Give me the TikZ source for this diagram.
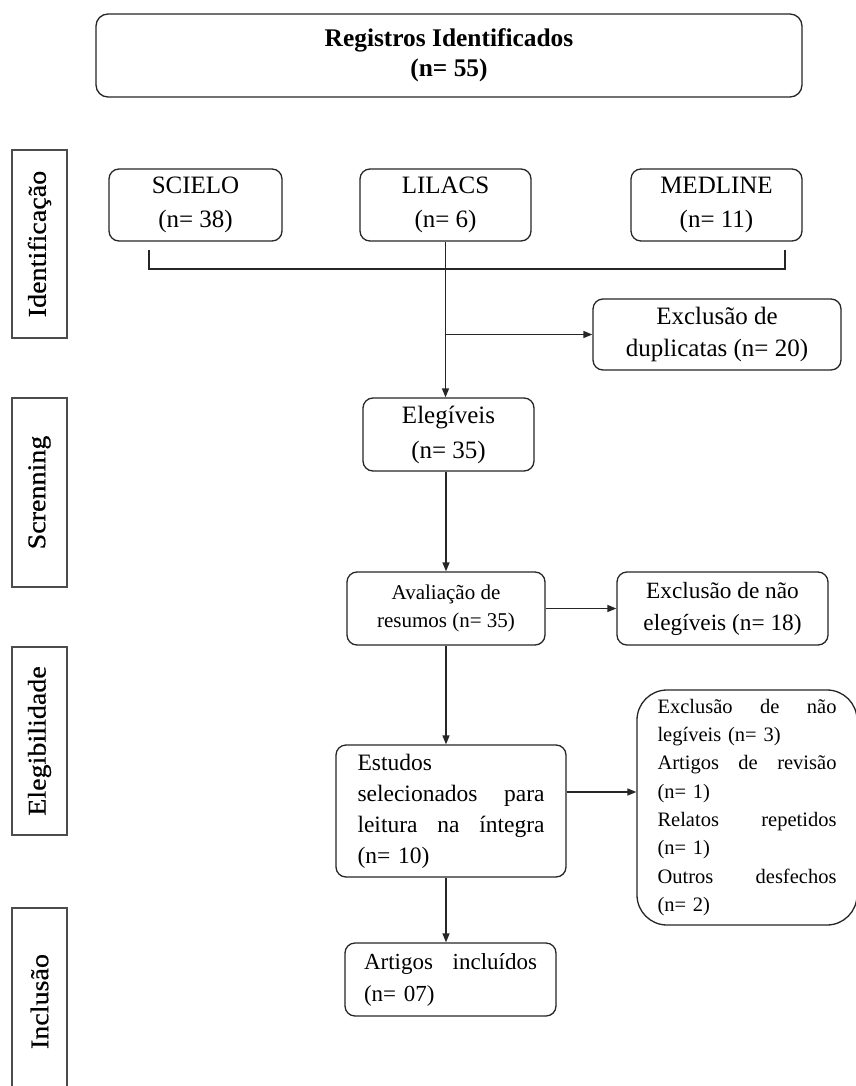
\documentclass[tikz,border=0pt]{standalone}
\usepackage{fontspec}
\setmainfont{Liberation Serif}
\newfontfamily\sidefont[FakeStretch=1.1,FakeBold=0.6]{Liberation Serif}
\usetikzlibrary{arrows.meta}
\newcommand{\jline}[2]{\makebox[#1][l]{#2}}
\begin{document}
\begin{tikzpicture}[x=1pt,y=-1pt,
  box/.style={draw=black!85, line width=1.3pt, rounded corners=10pt, inner sep=0pt, align=center},
  side/.style={draw=black!70, line width=2pt, rotate=90, inner sep=0pt,
    font=\sidefont\fontsize{25.5}{30}\selectfont},
  ln/.style={line width=1.4pt, draw=black!85},
  arr/.style={ln, -{Triangle[length=9pt,width=7pt]}},
  fA/.style={font=\fontsize{25}{34}\selectfont},
  fB/.style={font=\fontsize{25}{32}\selectfont},
]
\path[use as bounding box, fill=white] (0,0) rectangle (855,1086);

% phase labels
\node[side, minimum width=188pt, minimum height=55pt] (s1) at (39.5,244) {Identificação};
\node[side, minimum width=189pt, minimum height=55pt] (s2) at (39.5,492.5) {Screnning};
\node[side, minimum width=188pt, minimum height=55pt] (s3) at (39.5,741) {Elegibilidade};
\node[side, minimum width=187pt, minimum height=55pt] (s4) at (39.5,1001.5) {Inclusão};

% boxes
\node[box, rounded corners=12pt, minimum width=706pt, minimum height=83pt,
      font=\bfseries\fontsize{25.4}{30}\selectfont] (top) at (449,55.5)
      {Registros Identificados\\(n= 55)};
\node[box, fA, minimum width=173pt, minimum height=72pt] (scielo) at (195.5,205) {SCIELO\\(n= 38)};
\node[box, fA, minimum width=171pt, minimum height=72pt] (lilacs) at (445.5,205) {LILACS\\(n= 6)};
\node[box, fA, minimum width=171pt, minimum height=72pt] (medline) at (716.5,205) {MEDLINE\\(n= 11)};
\node[box, fB, minimum width=248pt, minimum height=71pt] (dup) at (717,334.5) {Exclusão de\\duplicatas (n= 20)};
\node[box, font=\fontsize{25}{35}\selectfont, minimum width=171pt, minimum height=73pt] (eleg) at (448.5,434.5) {Elegíveis\\(n= 35)};
\node[box, font=\fontsize{21}{28}\selectfont, minimum width=198pt, minimum height=73pt] (aval) at (446,608.5) {Avaliação de\\resumos (n= 35)};
\node[box, font=\fontsize{23.3}{32}\selectfont, minimum width=211pt, minimum height=73pt] (excl2) at (722.5,608.5) {Exclusão de não\\elegíveis (n= 18)};
\node[box, font=\fontsize{23.5}{31}\selectfont, minimum width=230pt, minimum height=132pt,
      text width=187pt, align=left] (estudos) at (451,811)
      {Estudos\\\jline{187pt}{selecionados\hfill para}\\\jline{187pt}{leitura\hfill na\hfill íntegra}\\(n= 10)};
\node[box, rounded corners=30pt, font=\fontsize{20.5}{28.3}\selectfont, minimum width=220pt, minimum height=235pt,
      text width=179pt, align=left] (right) at (747,807.5)
      {\jline{179pt}{Exclusão\hfill de\hfill não}\\legíveis (n= 3)\\\jline{179pt}{Artigos\hfill de\hfill revisão}\\(n= 1)\\
       \jline{179pt}{Relatos\hfill repetidos}\\(n= 1)\\\jline{179pt}{Outros\hfill desfechos}\\(n= 2)};
\node[box, font=\fontsize{23}{32}\selectfont, minimum width=211pt, minimum height=73pt,
      text width=173pt, align=left] (artigos) at (450.5,979.5)
      {\jline{173pt}{Artigos\hfill incluídos}\\(n= 07)};

% connectors
\coordinate (bl) at (149,250);
\coordinate (br) at (785,250);
\draw[ln] (bl) -- ++(0,19) -| (br);
\draw[arr] (lilacs.south) -- (lilacs.south |- eleg.north);
\coordinate (j1) at (lilacs.south |- dup.west);
\draw[arr] (j1) -- (dup.west);
\draw[arr] (aval.north |- eleg.south) -- (aval.north);
\draw[arr] (aval.east) -- (excl2.west);
\draw[arr] (aval.south) -- (aval.south |- estudos.north);
\coordinate (e1) at ([yshift=19pt]estudos.east);
\draw[arr] (e1) -- (e1 -| right.west);
\draw[arr] (aval.south |- estudos.south) -- (aval.south |- artigos.north);
\end{tikzpicture}
\end{document}
